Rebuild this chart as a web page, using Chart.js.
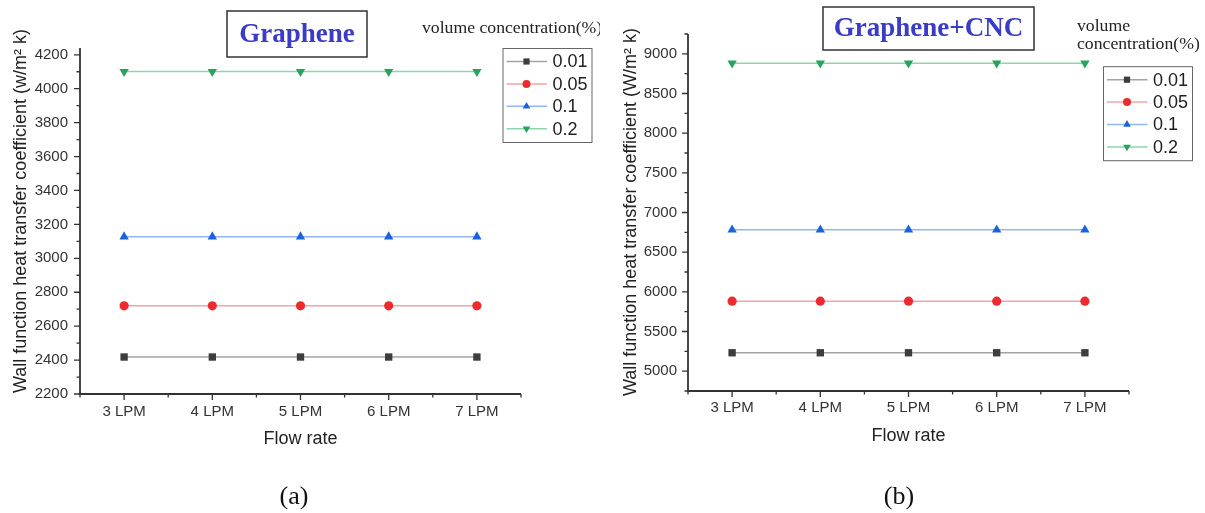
<!DOCTYPE html>
<html>
<head>
<meta charset="utf-8">
<script src="https://cdn.jsdelivr.net/npm/chart.js@4.4.1/dist/chart.umd.min.js"></script>
<style>
  html, body { margin: 0; padding: 0; background: #fff; }
  #wrap { position: relative; width: 1205px; height: 513px; overflow: hidden; background: #fff; }
  canvas { position: absolute; top: 0; }
  #chartA { left: 0; }
  #chartB { left: 600px; }
</style>
</head>
<body>
<div id="wrap">
  <canvas id="chartA" width="600" height="513"></canvas>
  <canvas id="chartB" width="605" height="513"></canvas>
</div>
<script>
const categories = ['3 LPM', '4 LPM', '5 LPM', '6 LPM', '7 LPM'];
const flowRates = [3, 4, 5, 6, 7];
const concentrations = ['0.01', '0.05', '0.1', '0.2'];

// (a) Graphene
const graphene001 = [2418, 2418, 2418, 2418, 2418];
const graphene005 = [2720, 2720, 2720, 2720, 2720];
const graphene01 = [3127, 3127, 3127, 3127, 3127];
const graphene02 = [4101, 4101, 4101, 4101, 4101];
const grapheneTicks = [2200, 2400, 2600, 2800, 3000, 3200, 3400, 3600, 3800, 4000, 4200];

// (b) Graphene+CNC
const cnc001 = [5232, 5232, 5232, 5232, 5232];
const cnc005 = [5882, 5882, 5882, 5882, 5882];
const cnc01 = [6782, 6782, 6782, 6782, 6782];
const cnc02 = [8882, 8882, 8882, 8882, 8882];
const cncTicks = [5000, 5500, 6000, 6500, 7000, 7500, 8000, 8500, 9000];

const markerColors = ['#3d3d3d', '#ec2a2f', '#1c62dc', '#27a35f'];
const lineColors = ['#a3a3a3', '#f6a3a5', '#93b6f0', '#8fd4ab'];
const pointStyles = ['rect', 'circle', 'triangle', 'triangle'];
const pointRotations = [0, 0, 0, 180];
const pointSizes = [5.2, 4.6, 5.4, 5.4];

Chart.defaults.font.family = "'Liberation Sans', Arial, sans-serif";
Chart.defaults.color = '#333';

const SERIF = "'Liberation Serif', 'Times New Roman', serif";
const SANS = "'Liberation Sans', Arial, sans-serif";

function buildDatasets(series) {
  return series.map((vals, i) => ({
    label: concentrations[i],
    data: vals.map((v, j) => ({ x: flowRates[j], y: v })),
    borderColor: lineColors[i],
    backgroundColor: markerColors[i],
    borderWidth: 1.5,
    pointStyle: pointStyles[i],
    pointRotation: pointRotations[i],
    pointRadius: pointSizes[i],
    pointBackgroundColor: markerColors[i],
    pointBorderColor: markerColors[i],
    pointBorderWidth: 0,
    tension: 0
  }));
}

function drawMarker(ctx, i, x, y, r) {
  ctx.fillStyle = markerColors[i];
  if (Chart.helpers && Chart.helpers.drawPoint) {
    Chart.helpers.drawPoint(ctx, { pointStyle: pointStyles[i], radius: r, rotation: pointRotations[i], borderWidth: 0 }, x, y);
  }
}

// frame, ticks, axis title, boxed title, legend and caption
function makeDecor(d) {
  return {
    id: 'decor',
    afterDraw(chart) {
      const { ctx, chartArea: a, scales: { x, y } } = chart;
      ctx.save();

      // axis lines
      ctx.strokeStyle = '#333';
      ctx.lineWidth = 1.8;
      ctx.beginPath();
      ctx.moveTo(a.left, a.top);
      ctx.lineTo(a.left, a.bottom);
      ctx.lineTo(a.right, a.bottom);
      ctx.stroke();

      // ticks, outward
      ctx.lineWidth = 1.3;
      ctx.beginPath();
      for (let v = Math.ceil(y.min / d.minorY) * d.minorY; v <= y.max; v += d.minorY) {
        const py = y.getPixelForValue(v);
        const major = d.ticks.includes(v);
        ctx.moveTo(a.left, py);
        ctx.lineTo(a.left - (major ? 6 : 3.5), py);
      }
      for (let v = x.min; v <= x.max + 1e-9; v += 0.5) {
        const px = x.getPixelForValue(v);
        const major = flowRates.includes(v);
        ctx.moveTo(px, a.bottom);
        ctx.lineTo(px, a.bottom + (major ? 6 : 3.5));
      }
      ctx.stroke();

      // y axis title
      ctx.save();
      ctx.translate(d.yTitleX, d.yTitleY);
      ctx.rotate(-Math.PI / 2);
      ctx.fillStyle = '#222';
      ctx.font = '18px ' + SANS;
      ctx.textAlign = 'center';
      ctx.textBaseline = 'middle';
      ctx.fillText(d.yTitle, 0, 0);
      ctx.restore();

      // boxed title
      const tb = d.titleBox;
      ctx.strokeStyle = '#333';
      ctx.lineWidth = 1.5;
      ctx.strokeRect(tb[0], tb[1], tb[2], tb[3]);
      ctx.fillStyle = '#3b3bc9';
      ctx.font = 'bold 27px ' + SERIF;
      ctx.textAlign = 'center';
      ctx.textBaseline = 'middle';
      ctx.fillText(d.title, tb[0] + tb[2] / 2, tb[1] + tb[3] / 2 + 1);

      // legend title
      ctx.fillStyle = '#222';
      ctx.font = '17.7px ' + SERIF;
      ctx.textAlign = 'left';
      d.legendTitle.forEach(t => ctx.fillText(t.text, t.x, t.y));

      // legend
      const lb = d.legendBox;
      ctx.strokeStyle = '#666';
      ctx.lineWidth = 1;
      ctx.strokeRect(lb[0], lb[1], 89, 94);
      concentrations.forEach((label, i) => {
        const ry = lb[1] + 13 + i * 22.4;
        ctx.strokeStyle = lineColors[i];
        ctx.lineWidth = 1.5;
        ctx.beginPath();
        ctx.moveTo(lb[0] + 3.5, ry);
        ctx.lineTo(lb[0] + 44, ry);
        ctx.stroke();
        drawMarker(ctx, i, lb[0] + 23.5, ry, i === 1 ? 4 : 4.4);
        ctx.fillStyle = '#222';
        ctx.font = '18px ' + SANS;
        ctx.textAlign = 'left';
        ctx.textBaseline = 'middle';
        ctx.fillText(label, lb[0] + 49.5, ry + 1);
      });

      // caption
      ctx.fillStyle = '#111';
      ctx.font = '26px ' + SERIF;
      ctx.textAlign = 'center';
      ctx.textBaseline = 'middle';
      ctx.fillText(d.caption, d.captionX, 497);

      ctx.restore();
    }
  };
}

function makeChart(id, cfg) {
  return new Chart(document.getElementById(id), {
    type: 'line',
    data: { datasets: buildDatasets(cfg.series) },
    options: {
      responsive: false,
      animation: false,
      devicePixelRatio: 1,
      layout: { padding: cfg.padding },
      plugins: { legend: { display: false }, tooltip: { enabled: false } },
      scales: {
        x: {
          type: 'linear',
          min: 2.5,
          max: 7.5,
          grid: { display: false, drawTicks: false },
          border: { display: false },
          afterBuildTicks: s => { s.ticks = flowRates.map(v => ({ value: v })); },
          afterFit: s => { s.height = 56; },
          ticks: {
            autoSkip: false,
            maxRotation: 0,
            padding: cfg.xTickPad,
            color: '#333',
            font: { size: 15 },
            callback: v => categories[flowRates.indexOf(v)] ?? ''
          },
          title: { display: true, text: 'Flow rate', color: '#222', font: { size: 18 }, padding: { top: 0, bottom: 0 } }
        },
        y: {
          type: 'linear',
          min: cfg.yMin,
          max: cfg.yMax,
          grid: { display: false, drawTicks: false },
          border: { display: false },
          afterBuildTicks: s => { s.ticks = cfg.ticks.map(v => ({ value: v })); },
          afterFit: s => { s.width = cfg.yWidth; },
          ticks: { padding: cfg.yTickPad, color: '#333', font: { size: 15 }, callback: v => String(v) }
        }
      }
    },
    plugins: [makeDecor(cfg.decor)]
  });
}

makeChart('chartA', {
  series: [graphene001, graphene005, graphene01, graphene02],
  ticks: grapheneTicks,
  yMin: 2200,
  yMax: 4240,
  yWidth: 80,
  yTickPad: 12,
  xTickPad: 9,
  padding: { left: 0, top: 48, right: 79, bottom: 63 },
  decor: {
    minorY: 100,
    ticks: grapheneTicks,
    yTitle: 'Wall function heat transfer coefficient (w/m\u00B2 k)',
    yTitleX: 21.5,
    yTitleY: 211,
    title: 'Graphene',
    titleBox: [227, 11, 140, 46],
    legendTitle: [{ text: 'volume concentration(%)', x: 422, y: 28 }],
    legendBox: [503, 48.5],
    caption: '(a)',
    captionX: 294
  }
});

makeChart('chartB', {
  series: [cnc001, cnc005, cnc01, cnc02],
  ticks: cncTicks,
  yMin: 4750,
  yMax: 9250,
  yWidth: 88,
  yTickPad: 11,
  xTickPad: 8,
  padding: { left: 0, top: 34, right: 76, bottom: 66 },
  decor: {
    minorY: 250,
    ticks: cncTicks,
    yTitle: 'Wall function heat transfer coefficient (W/m\u00B2 k)',
    yTitleX: 31.5,
    yTitleY: 212,
    title: 'Graphene+CNC',
    titleBox: [223, 7, 211, 43],
    legendTitle: [{ text: 'volume', x: 477, y: 26 }, { text: 'concentration(%)', x: 477, y: 44.5 }],
    legendBox: [503.5, 66.7],
    caption: '(b)',
    captionX: 299
  }
});
</script>
</body>
</html>
